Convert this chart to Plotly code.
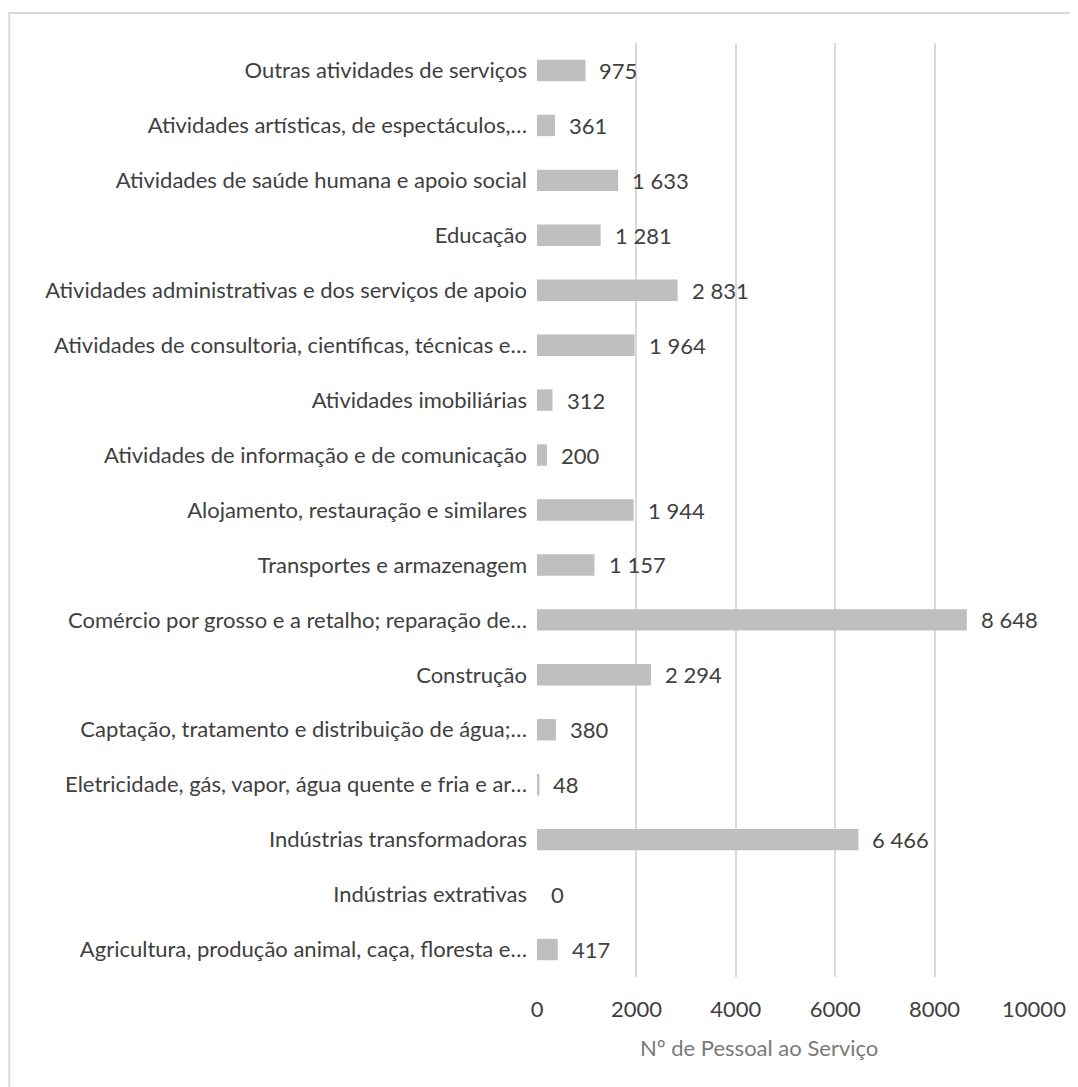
import plotly.graph_objects as go

# categorias de baixo para cima (ordem do eixo y no Plotly)
categorias = [
    "Agricultura, produção animal, caça, floresta e…",
    "Indústrias extrativas",
    "Indústrias transformadoras",
    "Eletricidade, gás, vapor, água quente e fria e ar…",
    "Captação, tratamento e distribuição de água;…",
    "Construção",
    "Comércio por grosso e a retalho; reparação de…",
    "Transportes e armazenagem",
    "Alojamento, restauração e similares",
    "Atividades de informação e de comunicação",
    "Atividades imobiliárias",
    "Atividades de consultoria, científicas, técnicas e…",
    "Atividades administrativas e dos serviços de apoio",
    "Educação",
    "Atividades de saúde humana e apoio social",
    "Atividades artísticas, de espectáculos,…",
    "Outras atividades de serviços",
]
pessoal = [417, 0, 6466, 48, 380, 2294, 8648, 1157, 1944, 200, 312,
           1964, 2831, 1281, 1633, 361, 975]
ticks_x = [0, 2000, 4000, 6000, 8000, 10000]

FONTE = "Lato"
TAM = 22
COR_TEXTO = "#404040"
COR_GRELHA = "#d9d9d9"


def formatar(v):
    return f"{v:,}".replace(",", " ")


fig = go.Figure(
    go.Bar(
        x=pessoal,
        y=categorias,
        orientation="h",
        marker=dict(color="#bfbfbf", line=dict(width=0)),
        hoverinfo="x+y",
    )
)

# rótulos de dados à direita das barras
for cat, v in zip(categorias, pessoal):
    fig.add_annotation(
        x=v, y=cat, text=formatar(v), showarrow=False,
        xanchor="left", yanchor="middle", xshift=12,
        font=dict(family=FONTE, size=TAM, color=COR_TEXTO),
    )

# título do eixo x
fig.add_annotation(
    x=0.447, y=-0.076, xref="paper", yref="paper",
    text="Nº de Pessoal ao Serviço", showarrow=False,
    xanchor="center", yanchor="middle",
    font=dict(family=FONTE, size=TAM, color="#7a7a7a"),
)

# moldura da área do gráfico
fig.add_shape(
    type="rect", xref="paper", yref="paper",
    x0=-1.062, x1=1.2, y0=-0.2, y1=1.032,
    line=dict(color=COR_GRELHA, width=2), layer="below",
)

fig.update_layout(
    width=1078,
    height=1087,
    margin=dict(l=529, r=52, t=35, b=118, autoexpand=False),
    paper_bgcolor="white",
    plot_bgcolor="white",
    bargap=0.61,
    showlegend=False,
    font=dict(family=FONTE, size=TAM, color=COR_TEXTO),
)
fig.update_xaxes(
    range=[0, 10000],
    tickvals=ticks_x,
    ticktext=[str(t) for t in ticks_x],
    showgrid=True,
    gridcolor=COR_GRELHA,
    gridwidth=2,
    zeroline=False,
    showline=False,
    ticks="",
    ticklabelstandoff=17,
    tickfont=dict(family=FONTE, size=TAM, color=COR_TEXTO),
)
fig.update_yaxes(
    type="category",
    showgrid=False,
    zeroline=False,
    showline=False,
    ticks="",
    ticklabelstandoff=9,
    tickfont=dict(family=FONTE, size=TAM, color=COR_TEXTO),
)

fig.write_html("out.html")
